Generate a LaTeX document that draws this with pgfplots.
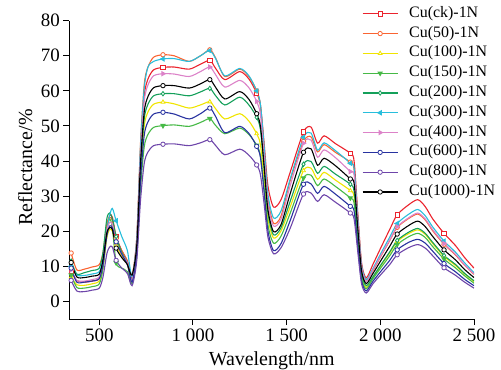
\documentclass[border=0pt]{standalone}
\usepackage{fontspec}
\setmainfont{Liberation Serif}
\usepackage{pgfplots}
\usepackage{pgfplotstable}
\pgfplotsset{compat=1.18}
\definecolor{cck}{RGB}{235,35,45}
\definecolor{cf}{RGB}{250,100,50}
\definecolor{ch}{RGB}{240,228,0}
\definecolor{cfh}{RGB}{70,185,70}
\definecolor{ctw}{RGB}{20,160,90}
\definecolor{cth}{RGB}{40,190,220}
\definecolor{cfo}{RGB}{220,130,200}
\definecolor{csx}{RGB}{40,50,160}
\definecolor{cei}{RGB}{110,70,170}
\definecolor{cth2}{RGB}{0,0,0}
\pgfplotstableread{
wl ck c50 c100 c150 c200 c300 c400 c600 c800 c1000
350 8.5 13.8 7.0 7.5 11.5 10.0 9.0 9.5 6.0 11.1
380 6.0 9.0 4.8 4.0 7.8 7.5 6.0 5.5 3.0 7.0
420 5.5 9.2 4.6 3.8 8.2 7.4 5.8 5.5 2.8 6.8
460 5.8 9.8 5.0 4.2 8.8 7.8 6.2 5.8 3.2 7.2
500 6.5 10.5 5.8 5.0 9.5 8.5 7.0 6.5 3.8 7.8
520 11 14 9.5 9.5 14 12 11 10.5 7 12
540 20.5 22 18 20 23.5 20 20 18.5 13.5 19.5
555 24.5 24.0 20.5 23.5 25.2 24.5 22.5 21.5 15.5 21.0
570 24.0 23.0 20.0 21.0 23.5 26.5 22.0 21.0 15.5 20.5
590 18.5 18.0 16.0 11.0 18.5 23.0 17.0 17.0 11.7 15.2
620 14.5 14.5 13.0 9.5 14.0 18.5 13.5 13.5 9.5 12.5
650 11.5 11.5 10.5 8.5 11.0 14.5 11.0 10.5 8.0 10.5
675 6.5 7.5 5.5 5.0 6.0 7.0 6.0 5.5 4.5 7.5
700 17.3 18.3 14.8 13.0 15.4 18.0 16.9 14.0 11.6 16.0
720 42.7 45.0 36.4 32.1 37.9 44.2 41.5 34.5 28.7 39.4
740 58.7 61.9 50.0 44.1 52.1 60.8 57.1 47.4 39.4 54.1
760 63.4 66.8 54.0 47.6 56.2 66.8 61.7 51.2 42.6 58.4
790 66.0 69.6 56.2 49.6 58.6 68.4 64.3 53.4 44.4 60.9
840 66.7 70.3 56.8 50.1 59.2 69.1 64.9 53.9 44.8 61.5
900 66.8 70.0 56.3 50.3 59.2 69.2 64.8 53.4 44.9 61.5
980 66.2 68.4 55.1 49.9 58.6 68.4 64.1 52.0 44.4 60.8
1040 67.6 70.0 56.0 51.0 59.7 70.0 65.5 53.5 45.2 62.0
1090 68.7 71.7 56.9 52.1 60.7 71.5 66.8 55.1 46.1 63.2
1120 66.5 69.5 55.0 50.2 58.7 69.3 64.7 52.8 44.5 61.1
1170 63.2 64.1 52.0 47.8 56.0 64.3 61.1 48.1 41.8 57.7
1250 65.5 66.2 53.5 49.4 58.2 66.4 63.0 49.9 43.4 59.8
1300 63.3 64.0 51.3 47.5 55.9 64.2 60.8 47.8 41.6 57.5
1340 59.4 60.0 47.8 44.5 52.5 60.0 57.0 44.2 38.9 53.5
1360 56.0 56.0 44.7 41.6 49.0 56.2 53.3 41.1 36.2 50.0
1380 45.0 43.3 34.6 32.1 37.7 44.0 41.3 31.0 27.7 38.6
1400 33.0 29.4 23.7 21.8 25.3 30.6 28.2 20.1 18.4 26.2
1430 26.9 22.3 18.1 16.6 19.0 23.8 21.5 14.5 13.6 19.9
1470 29.0 24.3 20.1 18.6 21.0 25.8 23.5 16.5 15.3 21.9
1520 37.0 34.6 27.1 25.3 28.7 35.1 33.2 23.2 21.0 30.9
1590 48.3 45.6 37.3 35.2 39.1 46.8 45.1 33.4 30.6 42.5
1630 49.7 46.9 38.0 36.0 39.9 48.0 46.0 33.5 30.9 43.5
1665 45.1 42.6 34.8 33.0 36.5 43.1 41.1 30.8 28.5 38.8
1700 47.2 44.7 36.8 34.9 38.5 45.2 43.2 32.8 30.4 40.8
1760 45.0 42.5 34.6 32.8 36.3 43.0 41.0 30.6 28.3 38.7
1840 42.2 39.7 31.6 29.5 33.4 39.4 37.0 27.1 25.2 34.9
1860 40.0 37.5 29.8 28.0 31.4 38.0 36.0 25.8 23.5 33.7
1880 25.0 23.4 18.2 17.0 19.3 23.7 22.4 15.5 14.0 20.8
1900 11.0 10.1 7.3 6.6 7.9 10.3 9.6 5.8 5.0 8.7
1925 6.7 6.1 4.0 3.6 4.5 6.2 5.7 3.0 2.4 5.1
1960 10.5 8.7 6.8 6.4 7.0 9.3 8.9 5.7 5.0 7.9
2000 15.0 12.6 10.0 9.4 10.2 13.4 12.8 8.4 7.5 11.4
2050 20.5 17.3 13.8 13.0 14.1 18.3 17.5 11.7 10.5 15.7
2090 24.7 21.1 17.1 16.2 17.4 22.2 21.3 14.7 13.3 19.2
2150 27.5 23.6 19.3 18.4 19.7 24.8 23.8 16.8 15.3 21.6
2200 29.0 24.9 20.4 19.4 20.8 26.2 25.2 17.7 16.2 22.9
2240 27.0 23.2 19.1 18.2 19.4 24.4 23.5 16.6 15.2 21.3
2280 23.5 20.1 16.5 15.6 16.8 21.2 20.4 14.3 13.0 18.5
2340 19.4 16.3 12.8 12.1 13.1 17.2 16.5 10.8 9.6 14.7
2400 16.0 13.3 10.3 9.6 10.6 14.1 13.5 8.5 7.5 11.9
2450 12.5 10.3 7.8 7.3 8.0 11.0 10.4 6.3 5.5 9.1
2500 9.5 7.7 5.7 5.2 5.9 8.2 7.8 4.5 3.8 6.8
}\spectra
\begin{document}
\begin{tikzpicture}
\useasboundingbox (-69.3bp,-51bp) rectangle (431.7bp,319bp);
\begin{axis}[
  at={(0,0)}, anchor=south west,
  scale only axis, width=404.7bp, height=298.3bp,
  xmin=340, xmax=2500, ymin=-5, ymax=80,
  axis x line*=bottom, axis y line*=left,
  axis line style={line width=1bp},
  tick align=outside, major tick length=6bp,
  every tick/.style={black, line width=1bp},
  xtick={500,1000,1500,2000,2500},
  ytick={0,10,...,80},
  /pgf/number format/assume math mode=true,
  /pgf/number format/1000 sep={\ },
  tick label style={font=\fontsize{19}{22}\selectfont},
  label style={font=\fontsize{20}{24}\selectfont},
  xlabel={Wavelength/nm},
  ylabel={Reflectance/\%},
  xlabel style={at={(axis description cs:0.5,0)}, anchor=base, yshift=-46bp},
  ylabel style={at={(axis description cs:-0.109,0.508)}, anchor=center},
  legend style={draw=none, fill=none, at={(axis description cs:0.723,1.049)}, anchor=north west,
    font=\fontsize{16}{18}\selectfont, inner sep=0pt, row sep=4.8bp,
    nodes={inner sep=0pt, text height=11bp, text depth=4bp},
    /tikz/every odd column/.append style={column sep=11bp}},
  legend cell align=left,
  legend image code/.code={\draw[#1, mark indices={2}] plot coordinates {(0bp,0bp) (17.5bp,0bp) (35bp,0bp)};},
  every axis plot/.append style={line width=1.1bp, smooth, tension=0.45,
    mark size=2.2bp, mark indices={1,10,19,23,28,35,40,48,53},
    mark options={fill=white, solid, line width=0.8bp}},
]
\addplot[cck, mark=square*] table[x=wl, y=ck]{\spectra};
\addlegendentry{Cu(ck)-1N}
\addplot[cf, mark=*] table[x=wl, y=c50]{\spectra};
\addlegendentry{Cu(50)-1N}
\addplot[ch, mark=triangle*] table[x=wl, y=c100]{\spectra};
\addlegendentry{Cu(100)-1N}
\addplot[cfh, mark=triangle*, mark options={rotate=180}] table[x=wl, y=c150]{\spectra};
\addlegendentry{Cu(150)-1N}
\addplot[ctw, mark=diamond*] table[x=wl, y=c200]{\spectra};
\addlegendentry{Cu(200)-1N}
\addplot[cth, mark=triangle*, mark options={rotate=90}] table[x=wl, y=c300]{\spectra};
\addlegendentry{Cu(300)-1N}
\addplot[cfo, mark=triangle*, mark options={rotate=270}] table[x=wl, y=c400]{\spectra};
\addlegendentry{Cu(400)-1N}
\addplot[csx, mark=*] table[x=wl, y=c600]{\spectra};
\addlegendentry{Cu(600)-1N}
\addplot[cei, mark=*] table[x=wl, y=c800]{\spectra};
\addlegendentry{Cu(800)-1N}
\addplot[cth2, mark=*] table[x=wl, y=c1000]{\spectra};
\addlegendentry{Cu(1000)-1N}
\end{axis}
\end{tikzpicture}
\end{document}
